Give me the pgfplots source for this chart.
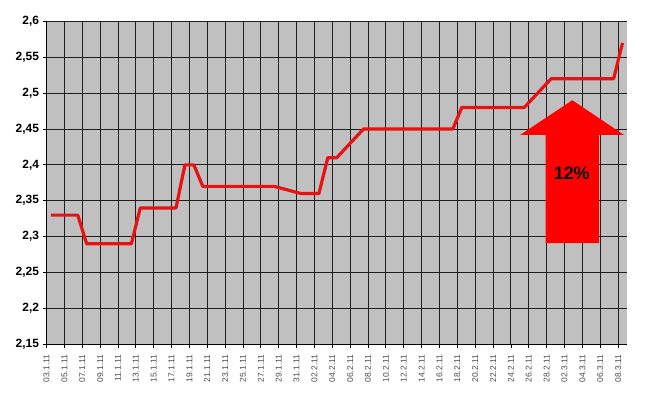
\documentclass[border=0pt]{standalone}
\usepackage{pgfplots}
\pgfplotsset{compat=1.18}
\usepackage{fontspec}
\setmainfont{Liberation Sans}
\definecolor{plotbg}{RGB}{192,192,192}
\definecolor{linered}{RGB}{232,18,18}
\definecolor{gridc}{RGB}{30,30,30}
\begin{document}
\begin{tikzpicture}[x=1bp,y=1bp]
\useasboundingbox (0,0) rectangle (645,397);
\begin{axis}[
  at={(46.5bp,52.7bp)}, anchor=south west,
  scale only axis, width=580.5bp, height=323bp,
  xmin=0, xmax=65, ymin=2.15, ymax=2.6,
  axis background/.style={fill=plotbg},
  axis x line=bottom, axis y line=left,
  axis line style={-, black, line width=0.8pt},
  tick align=outside, major tick length=4bp,
  tick style={black, line width=0.8pt},
  grid=major, major grid style={draw=gridc, line width=0.9pt},
  xtick={0,2,4,6,8,10,12,14,16,18,20,22,24,26,28,30,32,34,36,38,40,42,44,46,48,50,52,54,56,58,60,62,64},
  xticklabels={03.1.11,05.1.11,07.1.11,09.1.11,11.1.11,13.1.11,15.1.11,17.1.11,19.1.11,21.1.11,23.1.11,25.1.11,27.1.11,29.1.11,31.1.11,02.2.11,04.2.11,06.2.11,08.2.11,10.2.11,12.2.11,14.2.11,16.2.11,18.2.11,20.2.11,22.2.11,24.2.11,26.2.11,28.2.11,02.3.11,04.3.11,06.3.11,08.3.11},
  ytick={2.15,2.2,2.25,2.3,2.35,2.4,2.45,2.5,2.55,2.6},
  yticklabels={{2,15},{2,2},{2,25},{2,3},{2,35},{2,4},{2,45},{2,5},{2,55},{2,6}},
  xticklabel shift=3bp,
  xticklabel style={rotate=90, anchor=east, font=\fontsize{8.5}{8.5}\selectfont, text=black!70},
  yticklabel style={font=\bfseries\fontsize{12}{12}\selectfont},
  clip=false,
]
\fill[red] (axis cs:58.88,2.490) -- (axis cs:64.67,2.4416) -- (axis cs:61.87,2.4416) -- (axis cs:61.87,2.2908) -- (axis cs:55.90,2.2908) -- (axis cs:55.90,2.4416) -- (axis cs:53.02,2.4416) -- cycle;
\node[font=\bfseries\fontsize{18}{18}\selectfont] at (axis cs:58.81,2.388) {12\%};
\addplot[linered, line width=3.2bp, line join=round, mark=none] table {
x y
0.5 2.33
3.5 2.33
4.5 2.29
9.5 2.29
10.5 2.34
14.5 2.34
15.5 2.40
16.5 2.40
17.5 2.37
25.5 2.37
28.5 2.36
30.5 2.36
31.5 2.41
32.5 2.41
35.5 2.45
45.5 2.45
46.5 2.48
53.5 2.48
56.5 2.52
63.5 2.52
64.5 2.57
};
\end{axis}
\end{tikzpicture}
\end{document}
